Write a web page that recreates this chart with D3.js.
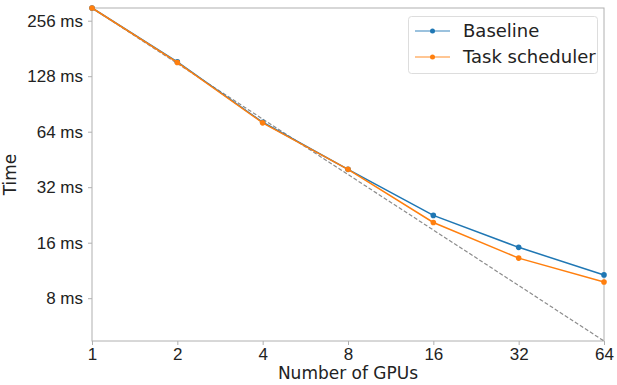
<!DOCTYPE html>
<html>
<head>
<meta charset="utf-8">
<script src="https://cdn.jsdelivr.net/npm/d3@7"></script>
<style>
  body { margin: 0; background: #fff; }
  svg { font-family: "DejaVu Sans", sans-serif; }
</style>
</head>
<body>
<div id="chart"></div>
<script>
// data
const gpus = [1, 2, 4, 8, 16, 32, 64];
const baselineMs = [300, 153, 72, 40, 22.5, 15.1, 10.7];
const schedulerMs = [300, 152, 71.5, 40, 20.6, 13.2, 9.8];
const yTicks = [8, 16, 32, 64, 128, 256];
const seriesNames = ['Baseline', 'Task scheduler'];
const seriesColors = ['#1f77b4', '#ff7f0e'];

const width = 617;
const height = 385;
const margin = { top: 8, right: 13, bottom: 44, left: 92 };

const svg = d3.select('#chart')
    .append('svg')
    .attr('width', width)
    .attr('height', height);

const x = d3.scaleLog().base(2)
    .domain([1, 64])
    .range([margin.left, width - margin.right]);

const y = d3.scaleLog().base(2)
    .domain([300 / 64, 300])
    .range([height - margin.bottom, margin.top]);

// x axis
const xAxis = svg.append('g')
    .attr('transform', `translate(0,${height - margin.bottom})`)
    .call(d3.axisBottom(x).tickValues(gpus).tickFormat(d3.format('d')).tickSize(4).tickPadding(3));

// y axis
const yAxis = svg.append('g')
    .attr('transform', `translate(${margin.left},0)`)
    .call(d3.axisLeft(y).tickValues(yTicks).tickFormat(d => d + ' ms').tickSize(4).tickPadding(5));

[xAxis, yAxis].forEach(ax => {
    ax.select('.domain').remove();
    ax.selectAll('.tick line').attr('stroke', '#b0b0b0');
    ax.selectAll('.tick text')
        .attr('fill', '#222')
        .style('font-size', '17px');
});

// frame
svg.append('rect')
    .attr('x', margin.left)
    .attr('y', margin.top)
    .attr('width', width - margin.left - margin.right)
    .attr('height', height - margin.top - margin.bottom)
    .attr('fill', 'none')
    .attr('stroke', '#b0b0b0')
    .attr('stroke-width', 1);

// ideal scaling line
svg.append('line')
    .attr('x1', x(1)).attr('y1', y(300))
    .attr('x2', x(64)).attr('y2', y(300 / 64))
    .attr('stroke', '#8c8c8c')
    .attr('stroke-width', 1.2)
    .attr('stroke-dasharray', '4,2');

const line = d3.line()
    .x(d => x(d[0]))
    .y(d => y(d[1]));

const series = [baselineMs, schedulerMs];
series.forEach((vals, i) => {
    const pts = gpus.map((g, j) => [g, vals[j]]);
    svg.append('path')
        .datum(pts)
        .attr('d', line)
        .attr('fill', 'none')
        .attr('stroke', seriesColors[i])
        .attr('stroke-width', 1.5);
    svg.selectAll('.pt' + i)
        .data(pts)
        .join('circle')
        .attr('class', 'pt' + i)
        .attr('cx', d => x(d[0]))
        .attr('cy', d => y(d[1]))
        .attr('r', 2.8)
        .attr('fill', seriesColors[i]);
});

// legend
const legend = svg.append('g');
legend.append('rect')
    .attr('x', 408.5).attr('y', 16.5)
    .attr('width', 189).attr('height', 57)
    .attr('rx', 3)
    .attr('fill', '#fff')
    .attr('fill-opacity', 0.8)
    .attr('stroke', '#ddd');

seriesNames.forEach((name, i) => {
    const ly = 31 + i * 26;
    legend.append('line')
        .attr('x1', 415).attr('x2', 450)
        .attr('y1', ly).attr('y2', ly)
        .attr('stroke', seriesColors[i])
        .attr('stroke-opacity', 0.6)
        .attr('stroke-width', 1.5);
    legend.append('circle')
        .attr('cx', 432.5).attr('cy', ly)
        .attr('r', 2.5)
        .attr('fill', seriesColors[i]);
    legend.append('text')
        .attr('x', 463).attr('y', ly)
        .attr('dy', '0.35em')
        .attr('fill', '#222')
        .style('font-size', '18px')
        .text(name);
});

// axis titles
svg.append('text')
    .attr('x', (margin.left + width - margin.right) / 2)
    .attr('y', 379)
    .attr('text-anchor', 'middle')
    .attr('fill', '#222')
    .style('font-size', '17px')
    .text('Number of GPUs');

svg.append('text')
    .attr('transform', `translate(16,${(margin.top + height - margin.bottom) / 2}) rotate(-90)`)
    .attr('text-anchor', 'middle')
    .attr('fill', '#222')
    .style('font-size', '17px')
    .text('Time');
</script>
</body>
</html>
